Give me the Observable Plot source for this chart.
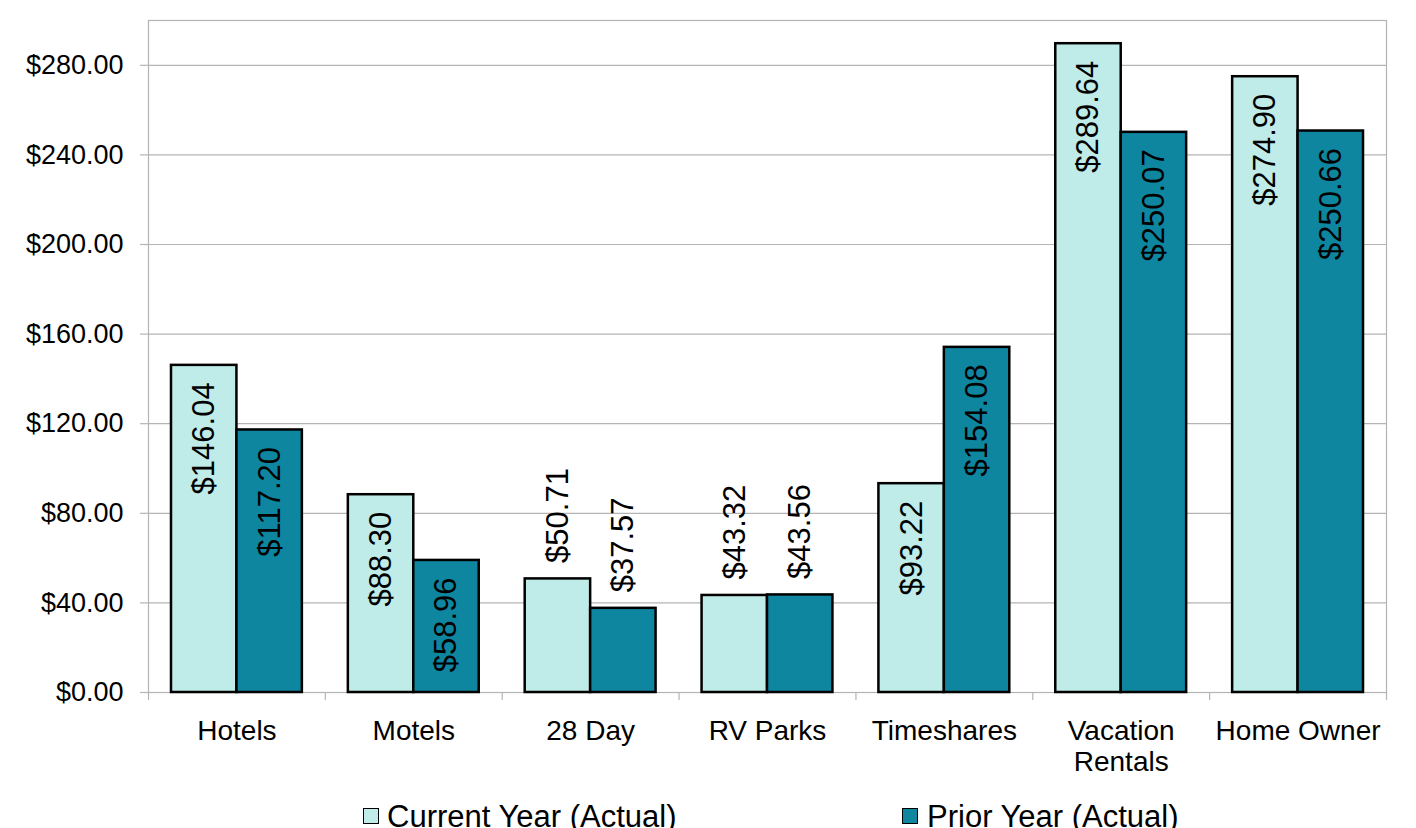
<!DOCTYPE html>
<html>
<head>
<meta charset="utf-8">
<script src="https://cdn.jsdelivr.net/npm/d3@7"></script>
<script src="https://cdn.jsdelivr.net/npm/@observablehq/plot@0.6"></script>
<style>
  html, body { margin: 0; padding: 0; background: #fff; overflow: hidden; }
  body { width: 1416px; height: 828px; font-family: "Liberation Sans", Arial, sans-serif; }
  #legend { position: relative; height: 38px; font-size: 31px; color: #000; }
  .sw { position: absolute; width: 14px; height: 14px; border: 1.5px solid #000; }
  .lab { position: absolute; white-space: nowrap; line-height: 31px; }
</style>
</head>
<body>
<div id="chart"></div>
<div id="legend"></div>
<script>
const categories = ["Hotels", "Motels", "28 Day", "RV Parks", "Timeshares", "Vacation Rentals", "Home Owner"];
const seriesNames = ["Current Year (Actual)", "Prior Year (Actual)"];
const currentYear = [146.04, 88.30, 50.71, 43.32, 93.22, 289.64, 274.90];
const priorYear = [117.20, 58.96, 37.57, 43.56, 154.08, 250.07, 250.66];
const yTicks = [0, 40, 80, 120, 160, 200, 240, 280];
const colors = ["#BFEBE8", "#0E86A0"];

const gridColor = "#b4b4b4";
const fontFamily = '"Liberation Sans", Arial, sans-serif';

// group layout (fractions of a category's band)
const pad = 0.13;
const rows = categories.flatMap((c, i) => [
  {cat: c, i, s: 0, series: seriesNames[0], value: currentYear[i]},
  {cat: c, i, s: 1, series: seriesNames[1], value: priorYear[i]}
]);
const x1 = d => d.i + (d.s === 0 ? pad : 0.5);
const x2 = d => d.i + (d.s === 0 ? 0.5 : 1 - pad);
const xc = d => (x1(d) + x2(d)) / 2;
const fmt = v => "$" + v.toFixed(2);
const fitsInside = d => d.value > 55;

const chart = Plot.plot({
  width: 1416,
  height: 790,
  marginLeft: 148,
  marginRight: 30,
  marginTop: 20,
  marginBottom: 98,
  style: {fontFamily, fontSize: "27px", color: "#000", background: "#fff"},
  x: {domain: [0, 7], axis: null},
  y: {domain: [0, 300], axis: null},
  color: {domain: seriesNames, range: colors},
  marks: [
    Plot.gridY(yTicks, {stroke: gridColor, strokeOpacity: 1, strokeWidth: 1.2}),
    Plot.frame({stroke: gridColor, strokeWidth: 1.2}),
    Plot.axisY({ticks: yTicks, tickFormat: fmt, tickSize: 8, tickPadding: 17, label: null, stroke: gridColor, strokeWidth: 1.2, fontSize: 27, fill: "#000"}),
    Plot.axisX({ticks: d3.range(0, 8), tickSize: 8, tickFormat: () => "", label: null, stroke: gridColor, strokeWidth: 1.2}),
    Plot.text(categories, {
      x: (d, i) => i + 0.5, y: () => 0, text: d => d,
      dy: 25, lineAnchor: "top", lineWidth: 6.5, lineHeight: 1.11, fontSize: 28, fill: "#000"
    }),
    Plot.rectY(rows, {x1, x2, y: "value", fill: "series", stroke: "#000", strokeWidth: 2.5}),
    Plot.text(rows.filter(fitsInside), {
      x: xc, y: "value", text: d => fmt(d.value), rotate: -90,
      textAnchor: "end", lineAnchor: "middle", dy: 17, fontSize: 31, fill: "#000"
    }),
    Plot.text(rows.filter(d => !fitsInside(d)), {
      x: xc, y: "value", text: d => fmt(d.value), rotate: -90,
      textAnchor: "start", lineAnchor: "middle", dy: -16, fontSize: 31, fill: "#000"
    })
  ]
});
document.getElementById("chart").appendChild(chart);

// legend
const legend = document.getElementById("legend");
const legendPos = [{sq: 363, tx: 387}, {sq: 902, tx: 927}];
seriesNames.forEach((name, k) => {
  const sw = document.createElement("div");
  sw.className = "sw";
  sw.style.left = legendPos[k].sq + "px";
  sw.style.top = "18px";
  sw.style.background = colors[k];
  legend.appendChild(sw);
  const lab = document.createElement("div");
  lab.className = "lab";
  lab.style.left = legendPos[k].tx + "px";
  lab.style.top = "11px";
  lab.textContent = name;
  legend.appendChild(lab);
});
</script>
</body>
</html>
